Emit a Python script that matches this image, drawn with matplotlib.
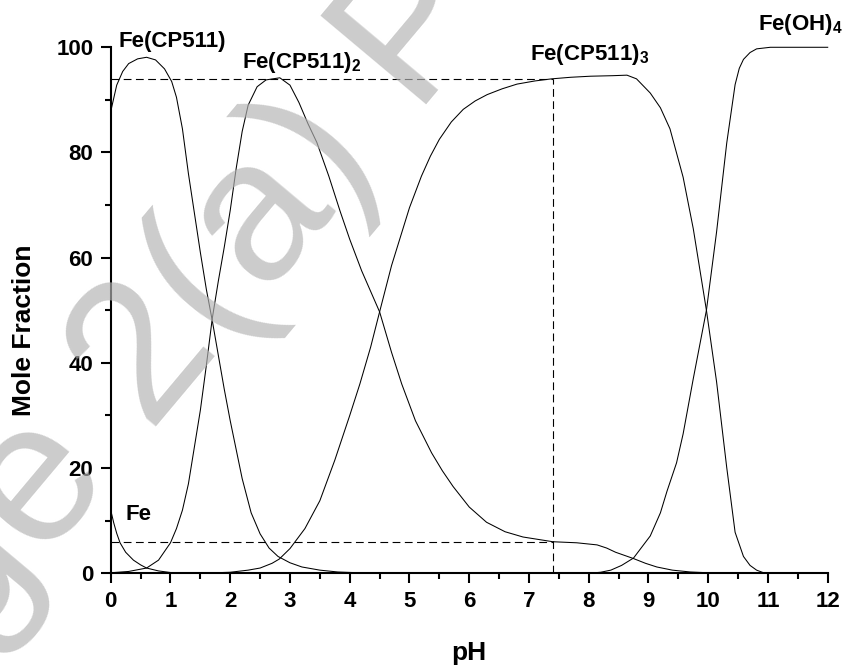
import numpy as np
import matplotlib.pyplot as plt
from matplotlib.ticker import MultipleLocator

plt.rcParams['font.family'] = ['Liberation Sans', 'DejaVu Sans']
plt.rcParams['font.weight'] = 'bold'
plt.rcParams['mathtext.fontset'] = 'custom'
plt.rcParams['mathtext.rm'] = 'Liberation Sans:bold'
plt.rcParams['mathtext.bf'] = 'Liberation Sans:bold'

# speciation curves (pH, mole fraction %)
ph_fe = [0, 0.05, 0.1, 0.156, 0.25, 0.38, 0.5, 0.6, 0.8, 1.0, 1.3, 1.6]
fe = [12, 9.6, 7.6, 5.8, 4.0, 2.5, 1.6, 1.0, 0.45, 0.15, 0.03, 0]

ph_ml = [0, 0.1, 0.2, 0.3, 0.45, 0.6, 0.75, 0.9, 1.02, 1.1, 1.2, 1.3, 1.4, 1.5,
         1.6, 1.7, 1.8, 1.9, 2.0, 2.1, 2.2, 2.35, 2.5, 2.65, 2.8, 3.0, 3.2, 3.5,
         3.8, 4.2, 4.6]
ml = [87.8, 92.8, 95.4, 96.9, 97.8, 98.1, 97.6, 95.9, 93.5, 90.5, 84.5, 76,
      68.5, 61, 54, 48, 41.5, 35, 29, 23.5, 18, 11.5, 7.5, 4.8, 3.2, 2.0, 1.2,
      0.6, 0.25, 0.08, 0]

ph_ml2 = [0, 0.3, 0.6, 0.8, 1.0, 1.1, 1.2, 1.3, 1.4, 1.5, 1.6, 1.7, 1.8, 1.9,
          2.0, 2.1, 2.2, 2.3, 2.45, 2.6, 2.83, 3.0, 3.15, 3.3, 3.45, 3.65, 3.84,
          4.0, 4.2, 4.5, 4.7, 4.87, 5.1, 5.37, 5.55, 5.73, 6.0, 6.29, 6.6, 6.9,
          7.4, 7.8, 8.14, 8.3, 8.45, 8.6, 8.75, 8.95, 9.14, 9.4, 9.7, 10.0, 10.4]
ml2 = [0.1, 0.35, 1.0, 2.5, 5.8, 8.5, 12, 17, 24, 31, 39.5, 48.5, 55.5, 62,
       69, 77, 84, 89, 92.5, 93.8, 94.2, 92.8, 89.5, 85.5, 81.9, 75.5, 68.8,
       63.5, 57.5, 49.7, 42, 36, 29, 22.9, 19.5, 16.5, 12.6, 9.7, 7.9, 6.9,
       6.0, 5.8, 5.4, 4.8, 4.0, 3.4, 2.8, 1.9, 1.2, 0.6, 0.25, 0.1, 0]

ph_ml3 = [0, 1.5, 2.0, 2.3, 2.5, 2.7, 2.82, 3.0, 3.25, 3.5, 3.75, 4.0, 4.17,
          4.35, 4.5, 4.7, 5.0, 5.2, 5.35, 5.5, 5.7, 5.9, 6.1, 6.3, 6.55, 6.8,
          7.1, 7.38, 7.7, 8.03, 8.4, 8.64, 8.8, 9.03, 9.2, 9.36, 9.58, 9.75,
          9.97, 10.14, 10.31, 10.45, 10.59, 10.7, 10.81, 10.95, 12]
ml3 = [0, 0, 0.2, 0.6, 1.0, 1.9, 2.7, 4.7, 8.5, 13.8, 21.5, 30, 36, 43, 49.7,
       58.5, 69.5, 75.5, 79.3, 82.5, 85.8, 88.2, 89.8, 91.0, 92.1, 93.0, 93.6,
       94.0, 94.3, 94.5, 94.6, 94.7, 94.0, 91.3, 88.5, 84.5, 75.3, 65.5, 50,
       36.4, 20.1, 7.8, 3.2, 1.5, 0.6, 0, 0]

ph_oh = [0, 8.0, 8.2, 8.37, 8.55, 8.75, 9.03, 9.2, 9.31, 9.47, 9.58, 9.75,
         9.86, 9.97, 10.14, 10.31, 10.45, 10.52, 10.59, 10.7, 10.81, 11.04, 12]
oh = [0, 0, 0.2, 0.6, 1.5, 2.9, 7.1, 11.5, 15.6, 21, 26.5, 37, 43.5, 50, 64.9,
      81.8, 92.9, 96, 97.7, 99.0, 99.7, 100, 100]

# guide lines at physiological pH
mark_ph = 7.4
mark_hi = 94
mark_lo = 6

fig = plt.figure(figsize=(8.44, 6.65), dpi=100)
ax = fig.add_axes([0.1312, 0.1379, 0.8495, 0.791])

for x, y in [(ph_fe, fe), (ph_ml, ml), (ph_ml2, ml2), (ph_ml3, ml3), (ph_oh, oh)]:
    ax.plot(x, y, color='black', lw=0.75, clip_on=False)

dash = (0, (7, 4))
ax.plot([0, mark_ph], [mark_hi, mark_hi], color='black', lw=0.8, ls=dash)
ax.plot([0, mark_ph], [mark_lo, mark_lo], color='black', lw=0.8, ls=dash)
ax.plot([mark_ph, mark_ph], [0, mark_hi], color='black', lw=0.8, ls=dash)

lab_kw = dict(fontsize=16, fontweight='bold', va='baseline')
ax.text(0.13, 100, 'Fe(CP511)', **lab_kw)
ax.text(2.19, 96.0, r'Fe(CP511)$_{\mathbf{2}}$', **lab_kw)
ax.text(7.02, 97.6, r'Fe(CP511)$_{\mathbf{3}}$', **lab_kw)
ax.text(10.83, 103.3, r'Fe(OH)$_{\mathbf{4}}$', **lab_kw)
ax.text(0.24, 10.1, 'Fe', **lab_kw)

ax.set_xlim(0, 12)
ax.set_ylim(0, 100)
ax.spines['top'].set_visible(False)
ax.spines['right'].set_visible(False)
ax.spines['left'].set_linewidth(1.5)
ax.spines['bottom'].set_linewidth(1.5)
ax.xaxis.set_major_locator(MultipleLocator(1))
ax.xaxis.set_minor_locator(MultipleLocator(0.5))
ax.yaxis.set_major_locator(MultipleLocator(20))
ax.yaxis.set_minor_locator(MultipleLocator(10))
ax.tick_params(which='major', length=7.5, width=1.5, labelsize=16, direction='out')
ax.tick_params(which='minor', length=4, width=1.5, direction='out')
ax.tick_params(axis='x', which='major', pad=5)
ax.tick_params(axis='y', which='major', pad=5)
for lab in ax.get_xticklabels() + ax.get_yticklabels():
    lab.set_fontweight('bold')

ax.set_xlabel('pH', fontsize=19, fontweight='bold', labelpad=21)
fig.text(24 / 844, 1 - 330 / 665, 'Mole Fraction', fontsize=19, fontweight='bold',
         rotation=90, ha='center', va='center')

# faint watermark laid over the plot
fig.text(-188 / 844, -172 / 665, 'Page 2(a) P', fontsize=145, color='#b3b3b3',
         alpha=0.67, rotation=50, rotation_mode='anchor', ha='left', va='baseline',
         fontweight='normal', zorder=20)

fig.savefig('out.png', dpi=100)
